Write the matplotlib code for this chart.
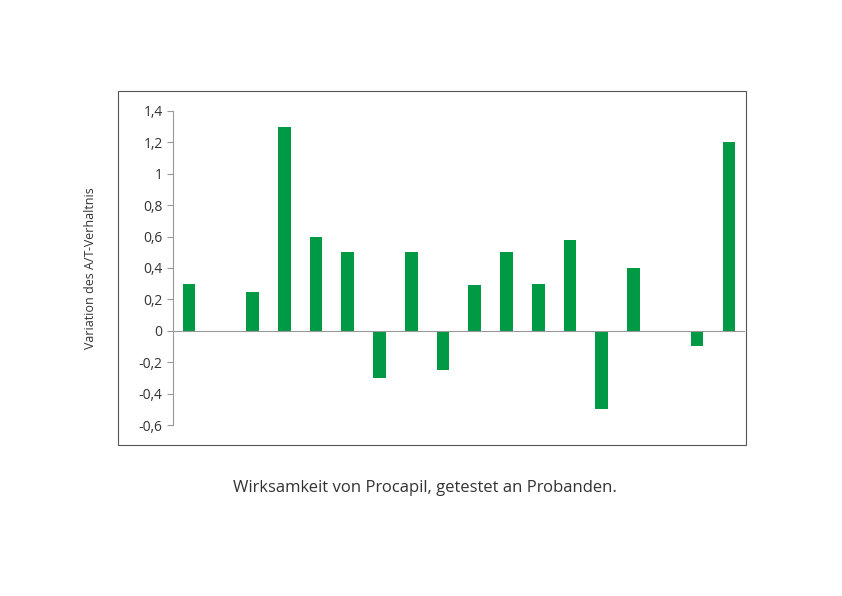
import matplotlib
matplotlib.use("Agg")
import matplotlib.pyplot as plt
from matplotlib.patches import Rectangle

values = [0.3, 0, 0.25, 1.3, 0.6, 0.5, -0.3, 0.5, -0.25, 0.29, 0.5, 0.3, 0.58, -0.5, 0.4, 0, -0.1, 1.2]
yticks = [-0.6, -0.4, -0.2, 0, 0.2, 0.4, 0.6, 0.8, 1, 1.2, 1.4]
ytick_labels = ["-0,6", "-0,4", "-0,2", "0", "0,2", "0,4", "0,6", "0,8", "1", "1,2", "1,4"]
ylabel = "Variation des A/T-Verhaltnis"
caption = "Wirksamkeit von Procapil, getestet an Probanden."

plt.rcParams["font.family"] = "Open Sans"
fig = plt.figure(figsize=(8.42, 5.96), dpi=100)
fig.patches.append(Rectangle((0.1401, 0.2534), 0.7458, 0.594, transform=fig.transFigure,
                             fill=False, edgecolor="#555555", linewidth=0.8))
ax = fig.add_axes([0.2055, 0.2869, 0.679, 0.527])
x = list(range(len(values)))
ax.bar(x, values, width=0.4, color="#009A44")
ax.set_xlim(-0.5, len(values) - 0.5)
ax.set_ylim(-0.6, 1.4)
ax.set_yticks(yticks)
ax.set_yticklabels(ytick_labels, fontsize=10, color="#333333")
ax.set_xticks([])
ax.axhline(0, color="#999999", linewidth=0.8)
for s in ["top", "right", "bottom"]:
    ax.spines[s].set_visible(False)
ax.spines["left"].set_color("#999999")
ax.tick_params(axis="y", length=4, color="#999999")
ax.set_ylabel(ylabel, fontsize=9, color="#333333", labelpad=30)
fig.text(0.505, 0.182, caption, ha="center", va="center", fontsize=12, color="#333333")
fig.savefig("out.png", dpi=100)
